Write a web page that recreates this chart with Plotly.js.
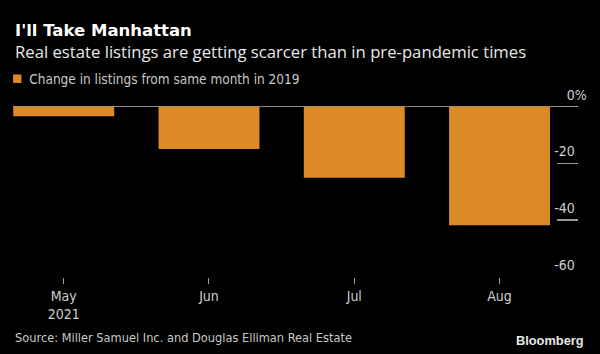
<!DOCTYPE html>
<html><head><meta charset="utf-8">
<script src="https://cdn.plot.ly/plotly-3.0.1.min.js"></script>
<style>html,body{margin:0;padding:0;background:#000;}#chart{width:600px;height:354px;}</style>
</head><body><div id="chart"></div>
<script>
const months = ["May<br>2021", "Jun", "Jul", "Aug"];
const changePct = [-3.4, -14.9, -25.0, -41.8];
const yTickVals = [0, -20, -40, -60];
const yTickLabels = ["0", "-20", "-40", "-60"];
const seriesName = "Change in listings from same month in 2019";

const W = 600, H = 354, mL = 13, mR = 22, mT = 100, mB = 77;
const plotH = H - mT - mB;
const py = px => (H - mB - px) / plotH;
const font = "Liberation Sans Narrow, DejaVu Sans Condensed, sans-serif";
const yTickText = yTickLabels.map((t, i) =>
  t + (i === 0 ? "%" : "<span style='color:rgba(0,0,0,0)'>%</span>"));

const trace = {
  type: "bar", x: [0,1,2,3], y: changePct, name: seriesName,
  marker: {color: "#dc8a25", line: {width: 0}}, width: 0.695,
  showlegend: true, hoverinfo: "skip"
};

const layout = {
  width: W, height: H,
  paper_bgcolor: "#000", plot_bgcolor: "#000",
  margin: {l: mL, r: mR, t: mT, b: mB, autoexpand: false},
  showlegend: true,
  legend: {orientation: "h", x: -0.042, xanchor: "left", y: py(79), yanchor: "middle",
    font: {family: font, size: 13.5, color: "#c8c8c8"}, bgcolor: "rgba(0,0,0,0)"},
  xaxis: {
    range: [-0.349, 3.54], tickvals: [0,1,2,3], ticktext: months,
    ticks: "outside", ticklen: 6, tickcolor: "#999", tickwidth: 1,
    showgrid: false, zeroline: false, showline: false, automargin: false,
    tickfont: {family: font, size: 14, color: "#cfcfcf"}, fixedrange: true
  },
  yaxis: {
    side: "right", range: [-60, 2.35], tickvals: yTickVals, ticktext: yTickText,
    ticks: "inside", ticklen: 21, tickcolor: "#999", tickwidth: 1.5,
    ticklabelposition: "inside", ticklabeloverflow: "allow",
    ticklabelshift: -12, ticklabelstandoff: -30,
    showgrid: false, showline: false, automargin: false,
    zeroline: true, zerolinecolor: "#8a8a8a", zerolinewidth: 1.5,
    tickfont: {family: font, size: 14, color: "#cfcfcf"}, fixedrange: true
  },
  annotations: [
    {xref: "paper", yref: "paper", x: 0, y: py(30), xanchor: "left", yanchor: "middle",
     text: "<b>I'll Take Manhattan</b>", showarrow: false,
     font: {family: "DejaVu Sans, sans-serif", size: 16.5, color: "#ffffff"}},
    {xref: "paper", yref: "paper", x: 0, y: py(51), xanchor: "left", yanchor: "middle",
     text: "Real estate listings are getting scarcer than in pre-pandemic times", showarrow: false,
     font: {family: "Open Sans, sans-serif", size: 16.7, color: "#e8e8e8"}},
    {xref: "paper", yref: "paper", x: 0, y: py(337), xanchor: "left", yanchor: "middle",
     text: "Source: Miller Samuel Inc. and Douglas Elliman Real Estate", showarrow: false,
     font: {family: font, size: 12.7, color: "#c8c8c8"}},
    {xref: "paper", yref: "paper", x: (586 - mL) / (W - mL - mR), y: py(340), xanchor: "right", yanchor: "middle",
     text: "<b>Bloomberg</b>", showarrow: false,
     font: {family: "Liberation Sans, Arial, sans-serif", size: 12.8, color: "#e6e6e6"}}
  ]
};

Plotly.newPlot("chart", [trace], layout, {displayModeBar: false, staticPlot: true}).then(gd => {
  gd.querySelectorAll(".legendpoints path").forEach(p => {
    const t = p.getAttribute("transform") || "";
    p.setAttribute("transform", t + " translate(8,0) scale(0.7)");
  });
});
</script></body></html>
